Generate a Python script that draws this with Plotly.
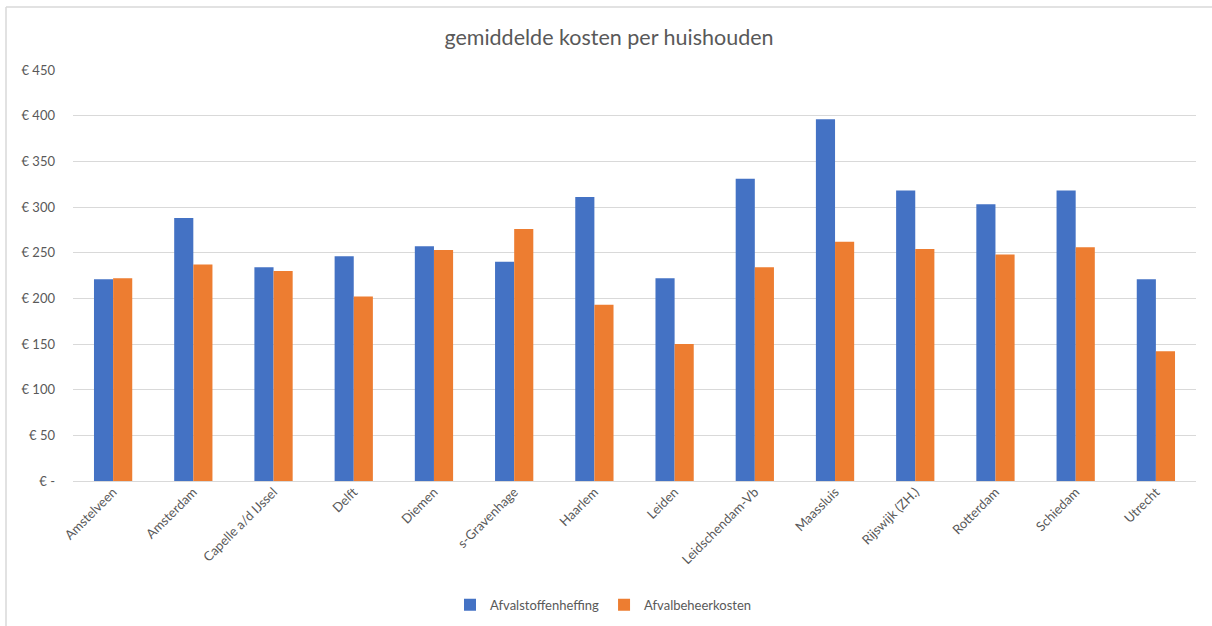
import plotly.graph_objects as go

categories = ["Amstelveen", "Amsterdam", "Capelle a/d IJssel", "Delft", "Diemen",
              "s-Gravenhage", "Haarlem", "Leiden", "Leidschendam-Vb", "Maassluis",
              "Rijswijk (ZH.)", "Rotterdam", "Schiedam", "Utrecht"]
afvalstoffenheffing = [221, 288, 234, 246, 257, 240, 311, 222, 331, 396, 318, 303, 318, 221]
afvalbeheerkosten = [222, 237, 230, 202, 253, 276, 193, 150, 234, 262, 254, 248, 256, 142]
tick_values = [0, 50, 100, 150, 200, 250, 300, 350, 400, 450]
tick_labels = ["€ -", "€ 50", "€ 100", "€ 150", "€ 200", "€ 250", "€ 300", "€ 350", "€ 400", "€ 450"]

FONT = "Lato, Open Sans, sans-serif"
GREY = "#595959"

fig = go.Figure()
fig.add_trace(go.Bar(name="Afvalstoffenheffing", x=categories, y=afvalstoffenheffing,
                     marker=dict(color="#4472C4", line=dict(width=0))))
fig.add_trace(go.Bar(name="Afvalbeheerkosten", x=categories, y=afvalbeheerkosten,
                     marker=dict(color="#ED7D31", line=dict(width=0))))

fig.update_layout(
    width=1212, height=626,
    paper_bgcolor="white", plot_bgcolor="white",
    barmode="group", bargap=0.523, bargroupgap=0,
    margin=dict(l=73, r=16, t=70, b=145),
    title=dict(text="gemiddelde kosten per huishouden", x=609 / 1212, xanchor="center",
               xref="container",
               y=1 - 37 / 626, yanchor="middle",
               font=dict(family=FONT, size=21.5, color=GREY)),
    font=dict(family=FONT, size=13, color=GREY),
    legend=dict(orientation="h", x=450 / 1212, xref="container", xanchor="left",
                y=0.01, yref="container", yanchor="bottom",
                font=dict(family=FONT, size=13, color=GREY),
                traceorder="normal"),
    xaxis=dict(tickangle=-45, showgrid=False, showline=False, ticks="",
               tickfont=dict(family=FONT, size=13, color=GREY)),
    yaxis=dict(range=[0, 450], tickvals=tick_values, ticktext=tick_labels,
               showgrid=True, gridcolor="#d9d9d9", gridwidth=1.3,
               zeroline=True, zerolinecolor="#d9d9d9", zerolinewidth=1.3,
               showline=False, ticks="", ticklabelstandoff=17,
               tickfont=dict(family=FONT, size=13, color=GREY)),
    showlegend=True,
)

# chart-area border (top and left edges visible in the reference)
fig.add_shape(type="line", xref="paper", yref="paper", x0=-67 / 1123, x1=1.02,
              y0=1 + 63 / 411, y1=1 + 63 / 411, line=dict(color="#d9d9d9", width=1.5))
fig.add_shape(type="line", xref="paper", yref="paper", x0=-67 / 1123, x1=-67 / 1123,
              y0=1 + 63 / 411, y1=-145 / 411, line=dict(color="#d9d9d9", width=1.5))

fig.write_html("out.html", config={"displayModeBar": False},
               post_script="document.body.style.margin='0';")
